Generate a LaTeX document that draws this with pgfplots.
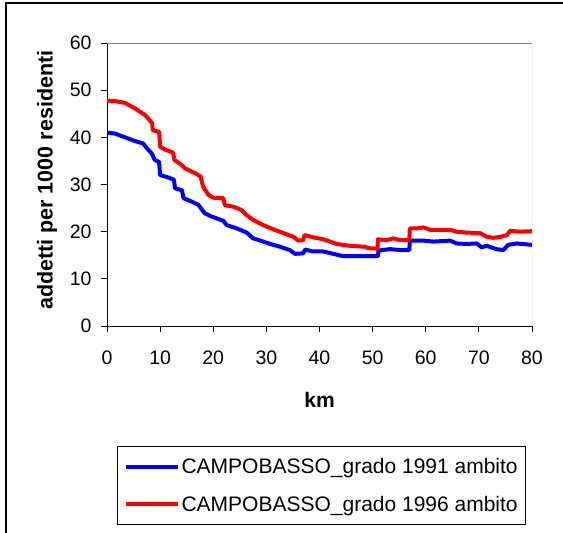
\documentclass[border=0pt]{standalone}
\usepackage{pgfplots}
\pgfplotsset{compat=1.18}
\usepackage{fontspec}
\setmainfont{Liberation Sans}
\begin{document}
\begin{tikzpicture}
\useasboundingbox (-107pt,-207pt) rectangle (456pt,326pt);
\draw[line width=1.2pt] (-101pt,-210pt) -- (-101pt,323pt) -- (460pt,323pt);
\begin{axis}[
  scale only axis,
  width=425pt, height=283pt,
  xmin=0, xmax=80, ymin=0, ymax=60,
  xtick={0,10,...,80}, ytick={0,10,...,60},
  axis x line*=bottom, axis y line*=left,
  axis line style={black, line width=0.8pt},
  tick align=outside, major tick length=6pt,
  tick style={black, line width=0.8pt},
  /pgf/number format/assume math mode=true,
  ticklabel style={font=\fontsize{19.5}{22}\selectfont},
  xticklabel style={yshift=-15pt},
  yticklabel style={xshift=-6pt},
  xlabel={\fontsize{21}{24}\selectfont\bfseries km},
  ylabel={\fontsize{21.5}{24}\selectfont\bfseries addetti per 1000 residenti},
  xlabel style={at={(axis description cs:0.5,-0.261)}, anchor=center},
  ylabel style={at={(axis description cs:-0.141,0.515)}, anchor=center},
  legend style={at={(axis description cs:0.505,-0.424)}, anchor=north,
    draw=black, line width=0.8pt, font=\fontsize{21}{24}\selectfont,
    inner xsep=6pt, inner ysep=10pt, row sep=17pt},
  legend cell align=left,
  legend image code/.code={\draw[#1] (0pt,0pt) -- (52pt,0pt);},
]
\addplot[blue, line width=4pt, line join=round] coordinates {
(0,41.0) (1.5,40.8) (3.4,40.0) (5.3,39.2) (6.8,38.7) (7.5,37.7) (8.4,36.6) (9.0,35.2) (9.8,34.8) (10.0,32.0) (11.5,31.5) (12.6,31.0) (12.8,29.2) (14.1,28.8) (14.4,27.1) (15.9,26.4) (17.2,25.7) (18.4,23.9) (19.7,23.2) (21.9,22.3) (22.5,21.4) (24.4,20.7) (26.3,19.8) (27.5,18.6) (29.4,17.9) (30.7,17.4) (32.6,16.8) (34.4,16.1) (35.4,15.3) (36.9,15.4) (37.3,16.2) (38.8,15.8) (40.7,15.8) (42.6,15.3) (44.5,14.8) (51.0,14.8) (51.1,16.0) (53.3,16.3) (55.2,16.1) (56.9,16.1) (57.0,18.1) (59.6,18.1) (61.5,17.9) (64.6,18.1) (65.8,17.5) (67.7,17.4) (69.6,17.5) (70.5,16.7) (71.5,17.0) (73.3,16.3) (74.6,16.1) (75.5,17.2) (77.1,17.5) (80,17.2)
};
\addlegendentry{CAMPOBASSO\_grado 1991 ambito}
\addplot[red, line width=4pt, line join=round] coordinates {
(0,47.8) (1.5,47.7) (3.4,47.3) (5.3,46.1) (7.2,44.7) (8.5,43.0) (8.6,41.5) (9.8,41.2) (10.0,38.0) (10.9,37.4) (12.4,36.8) (12.7,35.2) (14.1,34.1) (14.7,33.4) (16.6,32.4) (17.6,31.7) (18.1,29.5) (19.1,27.8) (20.0,27.2) (21.9,27.1) (22.2,25.6) (23.8,25.3) (25.3,24.6) (26.3,23.5) (27.5,22.5) (29.4,21.4) (31.3,20.5) (33.2,19.7) (35.1,18.9) (36.0,18.1) (36.9,18.2) (37.2,19.3) (38.8,18.8) (40.7,18.4) (42.0,17.9) (43.2,17.4) (45.7,17.0) (48.6,16.8) (49.2,16.5) (50.9,16.4) (51.0,18.4) (52.6,18.2) (53.9,18.6) (55.2,18.2) (56.9,18.2) (57.0,20.7) (58.3,20.7) (59.6,20.9) (60.8,20.4) (64.6,20.4) (65.8,20.0) (67.7,19.8) (70.2,19.7) (71.5,18.9) (72.7,18.7) (74.0,18.9) (75.3,19.3) (75.9,20.2) (77.7,20.0) (80,20.1)
};
\addlegendentry{CAMPOBASSO\_grado 1996 ambito}
\draw[gray, line width=1pt] (rel axis cs:0,1) -- (rel axis cs:1,1) -- (rel axis cs:1,0);
\end{axis}
\end{tikzpicture}
\end{document}
